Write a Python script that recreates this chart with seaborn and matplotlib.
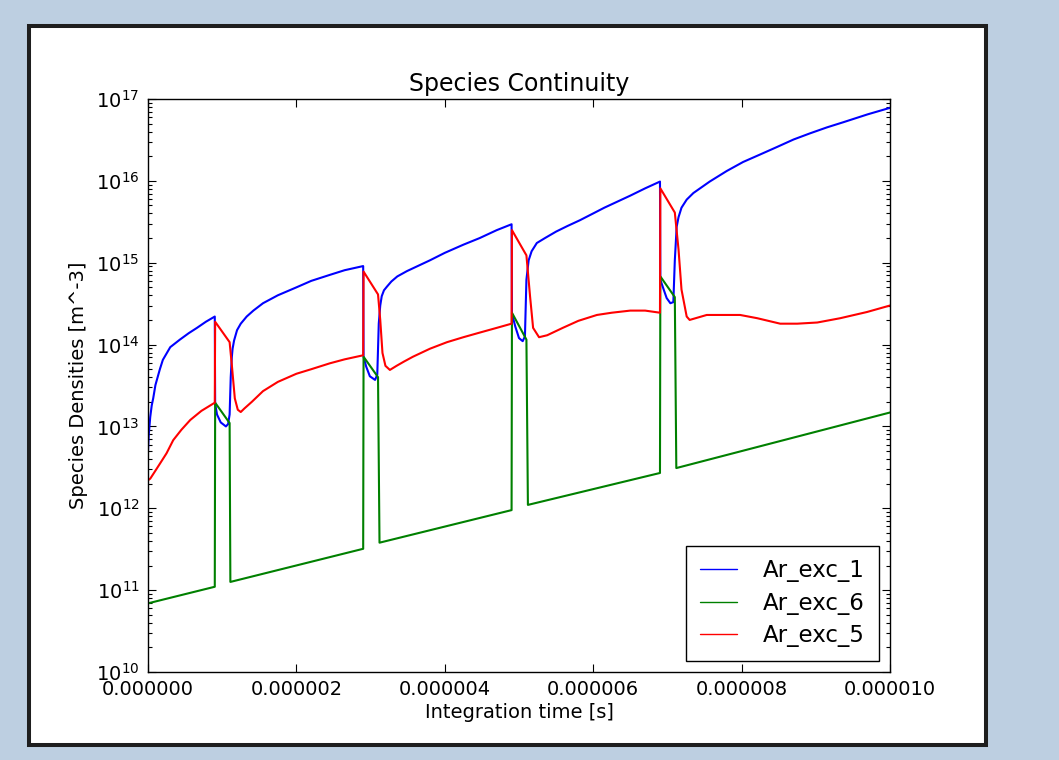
import matplotlib
matplotlib.use("Agg")
import matplotlib.pyplot as plt
from matplotlib.patches import Rectangle
from matplotlib.ticker import FormatStrFormatter, FixedLocator, LogLocator
import pandas as pd
import seaborn as sns

# Integration times (microseconds) and densities (m^-3) for each excited species
t_exc1 = [0.00, 0.01, 0.03, 0.05, 0.07, 0.10, 0.13, 0.16, 0.20, 0.30, 0.43, 0.55, 0.66, 0.78, 0.90,
          0.905, 0.93, 0.98, 1.05, 1.08, 1.10, 1.115, 1.13, 1.14, 1.16, 1.20, 1.25, 1.33, 1.42, 1.55,
          1.75, 2.00, 2.20, 2.45, 2.65, 2.90,
          2.905, 2.94, 2.99, 3.06, 3.09, 3.11, 3.13, 3.15, 3.18, 3.22, 3.28, 3.36, 3.49, 3.80, 4.00,
          4.25, 4.47, 4.70, 4.90,
          4.905, 4.95, 5.00, 5.05, 5.08, 5.10, 5.13, 5.17, 5.24, 5.35, 5.50, 5.65, 5.82, 6.00, 6.15,
          6.50, 6.70, 6.90,
          6.905, 6.95, 6.99, 7.04, 7.08, 7.10, 7.125, 7.15, 7.19, 7.26, 7.35, 7.57, 7.80, 8.02, 8.25,
          8.48, 8.70, 8.92, 9.15, 9.37, 9.70, 10.0]
n_exc1 = [5.0e12, 7.9e12, 1.3e13, 1.8e13, 2.2e13, 3.2e13, 4.0e13, 5.0e13, 6.5e13, 9.3e13, 1.15e14, 1.38e14, 1.6e14, 1.9e14, 2.2e14,
          1.9e13, 1.4e13, 1.12e13, 1.0e13, 1.07e13, 1.4e13, 4.0e13, 7.1e13, 8.9e13, 1.12e14, 1.5e14, 1.8e14, 2.2e14, 2.6e14, 3.2e14,
          4.0e14, 5.0e14, 6.0e14, 7.1e14, 8.1e14, 9.1e14,
          7.1e13, 5.4e13, 4.1e13, 3.7e13, 4.3e13, 1.8e14, 3.0e14, 3.9e14, 4.6e14, 5.1e14, 5.9e14, 6.8e14, 7.9e14, 1.07e15, 1.32e15,
          1.66e15, 2.0e15, 2.5e15, 2.95e15,
          2.4e14, 1.66e14, 1.2e14, 1.1e14, 1.26e14, 6.2e14, 1.07e15, 1.38e15, 1.74e15, 2.0e15, 2.4e15, 2.8e15, 3.3e15, 4.0e15, 4.7e15,
          6.6e15, 8.1e15, 9.8e15,
          6.2e14, 4.7e14, 3.7e14, 3.2e14, 3.3e14, 1.07e15, 2.75e15, 3.6e15, 4.7e15, 5.9e15, 7.1e15, 9.8e15, 1.32e16, 1.7e16, 2.1e16,
          2.6e16, 3.2e16, 3.8e16, 4.5e16, 5.2e16, 6.5e16, 7.8e16]

t_exc6 = [0.0, 0.90, 0.905, 1.10, 1.11, 2.90, 2.905, 3.10, 3.12, 4.90,
          4.905, 5.10, 5.12, 6.90, 6.905, 7.10, 7.12, 10.0]
n_exc6 = [6.9e10, 1.1e11, 1.95e13, 1.1e13, 1.26e11, 3.2e11, 7.1e13, 4.0e13, 3.8e11, 9.5e11,
          2.45e14, 1.15e14, 1.1e12, 2.7e12, 6.8e14, 3.8e14, 3.1e12, 1.48e13]

t_exc5 = [0.00, 0.03, 0.08, 0.16, 0.25, 0.34, 0.45, 0.57, 0.72, 0.90,
          0.905, 1.10, 1.13, 1.17, 1.21, 1.25, 1.30, 1.40, 1.55, 1.75, 2.00, 2.20, 2.45, 2.65, 2.90,
          2.905, 3.10, 3.13, 3.16, 3.20, 3.26, 3.35, 3.45, 3.57, 3.80, 4.03, 4.25, 4.47, 4.70, 4.90,
          4.905, 5.10, 5.15, 5.19, 5.27, 5.38, 5.59, 5.80, 6.05, 6.25, 6.50, 6.70, 6.90,
          6.905, 7.10, 7.15, 7.19, 7.26, 7.30, 7.53, 7.75, 7.98, 8.21, 8.52, 8.75, 9.02, 9.33, 9.69, 10.0]
n_exc5 = [2.2e12, 2.3e12, 2.7e12, 3.5e12, 4.7e12, 6.8e12, 9.1e12, 1.2e13, 1.55e13, 1.95e13,
          1.9e14, 1.07e14, 5.6e13, 2.2e13, 1.6e13, 1.5e13, 1.66e13, 2.0e13, 2.7e13, 3.5e13, 4.4e13, 5.0e13, 5.9e13, 6.6e13, 7.4e13,
          7.8e14, 4.1e14, 2.0e14, 7.9e13, 5.5e13, 4.9e13, 5.5e13, 6.2e13, 7.1e13, 8.9e13, 1.07e14, 1.23e14, 1.4e14, 1.6e14, 1.8e14,
          2.5e15, 1.23e15, 3.8e14, 1.6e14, 1.23e14, 1.3e14, 1.6e14, 1.95e14, 2.3e14, 2.45e14, 2.6e14, 2.6e14, 2.45e14,
          8.1e15, 4.1e15, 1.45e15, 4.7e14, 2.2e14, 2.0e14, 2.3e14, 2.3e14, 2.3e14, 2.1e14, 1.8e14, 1.8e14, 1.86e14, 2.1e14, 2.5e14, 3.0e14]

species = ["Ar_exc_1", "Ar_exc_6", "Ar_exc_5"]
colors = ["#0000ff", "#008000", "#ff0000"]
x_ticks = [0.0, 2e-6, 4e-6, 6e-6, 8e-6, 1e-5]

series = {
    "Ar_exc_1": (t_exc1, n_exc1),
    "Ar_exc_6": (t_exc6, n_exc6),
    "Ar_exc_5": (t_exc5, n_exc5),
}

sns.set_style("ticks")
plt.rcParams.update({
    "font.family": ["DejaVu Sans"],
    "xtick.direction": "in",
    "ytick.direction": "in",
    "xtick.top": True,
    "ytick.right": True,
    "axes.edgecolor": "black",
    "axes.linewidth": 1.0,
    "text.color": "black",
    "axes.labelcolor": "black",
    "xtick.color": "black",
    "ytick.color": "black",
})

W, H = 1059, 760
fig = plt.figure(figsize=(W / 100, H / 100), dpi=100, facecolor="#bdcfe1")

# white page with a dark frame, kept behind the axes
fig.patches.append(Rectangle((29 / W, 1 - 745 / H), (986 - 29) / W, (745 - 26) / H,
                             transform=fig.transFigure, facecolor="white",
                             edgecolor="#1e1e1e", linewidth=2.9, zorder=-5))

ax = fig.add_axes([148 / W, 1 - 672 / H, 742 / W, 573 / H])
ax.set_facecolor("white")

for name, col in zip(species, colors):
    t, n = series[name]
    df = pd.DataFrame({"time": [v * 1e-6 for v in t], "density": n})
    sns.lineplot(data=df, x="time", y="density", color=col, linewidth=1.5,
                 label=name, ax=ax, estimator=None, sort=False)

ax.set_yscale("log")
ax.set_xlim(0, 1e-5)
ax.set_ylim(1e10, 1e17)
ax.xaxis.set_major_locator(FixedLocator(x_ticks))
ax.xaxis.set_major_formatter(FormatStrFormatter("%.6f"))
ax.yaxis.set_major_locator(LogLocator(base=10, numticks=10))
ax.yaxis.set_minor_locator(LogLocator(base=10, subs=range(2, 10), numticks=20))

ax.tick_params(axis="both", which="major", length=6, width=0.8, pad=6)
ax.tick_params(axis="both", which="minor", length=3, width=0.8)
ax.tick_params(axis="x", labelsize=14)
ax.tick_params(axis="y", labelsize=14)

for s in ax.spines.values():
    s.set_visible(True)
    s.set_color("black")
    s.set_linewidth(1.0)

ax.set_title("Species Continuity", fontsize=17, pad=6)
ax.set_xlabel("Integration time [s]", fontsize=14, labelpad=3)
ax.set_ylabel("Species Densities [m^-3]", fontsize=14, labelpad=6)

leg = ax.legend(loc="lower right", fontsize=16.5, frameon=True, fancybox=False,
                edgecolor="black", framealpha=1.0, handlelength=1.6,
                handletextpad=1.15, borderpad=0.6, labelspacing=0.4,
                borderaxespad=0.5)
leg.get_frame().set_linewidth(1.0)
for line in leg.get_lines():
    line.set_linewidth(1.0)

fig.savefig("out.png", dpi=100, facecolor=fig.get_facecolor())
